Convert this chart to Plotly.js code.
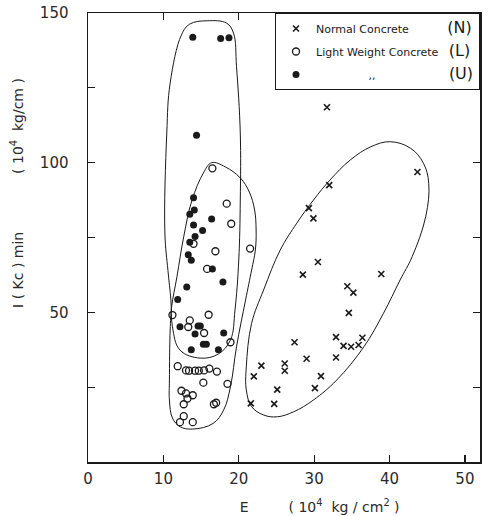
<!DOCTYPE html>
<html>
<head>
<meta charset="utf-8">
<script src="https://cdn.plot.ly/plotly-3.0.1.min.js"></script>
<style>html,body{margin:0;padding:0;background:#fff;}#chart{width:497px;height:516px;}</style>
</head>
<body>
<div id="chart"></div>
<script>
// Normal Concrete (N): E (10^4 kg/cm2), I(Kc)min (10^4 kg/cm)
const nE = [31.7, 43.7, 32.0, 29.3, 29.9, 30.5, 28.5, 38.9, 34.4, 35.2, 34.6, 32.9, 36.4, 33.9, 34.9, 35.9, 27.4, 29.0, 32.9, 23.0, 26.1, 26.1, 22.0, 30.9, 25.1, 30.1, 21.6, 24.7];
const nI = [118.5, 96.9, 92.5, 84.8, 81.4, 66.8, 62.6, 62.8, 58.7, 56.6, 49.8, 41.7, 41.5, 38.8, 38.5, 39.1, 40.0, 34.5, 34.9, 32.2, 32.9, 30.5, 28.6, 28.7, 24.2, 24.7, 19.6, 19.4];

// Light Weight Concrete (L)
const lE = [16.5, 18.4, 19.0, 14.0, 16.9, 21.5, 15.8, 11.2, 13.5, 16.0, 13.3, 15.4, 18.9, 11.9, 13.0, 13.4, 14.2, 14.7, 15.4, 16.1, 17.1, 15.3, 18.5, 12.4, 13.0, 13.9, 13.2, 12.7, 16.7, 17.0, 12.7, 12.2, 13.9];
const lI = [98.1, 86.3, 79.6, 72.9, 70.4, 71.3, 64.5, 49.1, 47.3, 49.2, 45.1, 43.1, 40.0, 32.0, 30.6, 30.5, 30.5, 30.5, 30.6, 31.2, 30.2, 26.5, 26.1, 23.8, 22.9, 22.3, 21.2, 19.3, 19.3, 19.8, 15.3, 13.3, 13.3];

// (U) ,,
const uE = [13.9, 17.6, 18.7, 14.4, 14.0, 14.1, 13.5, 16.4, 14.0, 15.2, 14.2, 13.5, 13.3, 13.7, 16.5, 17.9, 13.1, 11.9, 12.2, 14.6, 14.9, 14.2, 18.0, 15.3, 15.7, 13.7, 17.3];
const uI = [141.9, 141.5, 141.7, 109.2, 88.3, 84.2, 82.8, 81.2, 79.2, 77.3, 75.3, 73.4, 69.2, 67.4, 64.5, 60.1, 58.5, 54.3, 45.2, 45.4, 45.4, 42.8, 43.1, 39.3, 39.3, 37.5, 37.5];

// Hand-drawn envelopes
const envUE = [10.2, 10.45, 10.9, 12.4, 13.5, 15.8, 18.4, 19.3, 19.7, 20.2, 20.2, 20.0, 19.5, 18.9, 17.3, 14.9, 12.2, 11.2, 11.0, 10.6, 10.2];
const envUI = [76.5, 109.9, 126.6, 142.7, 146.3, 147.4, 146.6, 143.3, 132.1, 109.9, 87.5, 67.5, 50.8, 40.8, 36.1, 34.7, 37.4, 45.2, 54.1, 64.1, 76.5];
const envLE = [16.4, 18.2, 20.2, 21.4, 22.1, 22.3, 22.2, 21.7, 20.9, 19.7, 18.9, 18.0, 16.6, 13.9, 12.2, 11.2, 10.8, 10.8, 10.9, 11.1, 11.8, 12.7, 13.8, 15.3, 16.4];
const envLI = [100.0, 98.6, 94.9, 90.2, 84.2, 77.5, 70.8, 64.1, 54.1, 38.5, 25.2, 17.4, 12.9, 11.0, 11.8, 14.7, 20.7, 27.4, 44.1, 51.9, 61.9, 75.3, 87.5, 96.5, 100.0];
const envNE = [40.1, 42.8, 44.5, 45.2, 44.8, 43.0, 41.4, 39.2, 36.6, 33.0, 29.9, 27.3, 25.1, 23.3, 21.7, 21.0, 21.0, 21.7, 23.3, 25.5, 27.7, 29.9, 32.1, 34.8, 37.5, 40.1];
const envNI = [107.0, 104.8, 99.8, 93.1, 82.0, 68.6, 60.8, 49.7, 38.5, 27.4, 20.7, 16.8, 15.1, 15.7, 18.5, 24.1, 31.8, 46.3, 57.5, 70.8, 79.8, 87.5, 94.2, 100.9, 105.3, 107.0];

// Axis ticks
const xTicks = [0, 10, 20, 30, 40, 50];
const xTickText = ['0', '10', '20', '30', '40', '50'];
const yTicks = [25, 50, 75, 100, 125, 150];
const yTickText = ['', '50', '', '100', '', '150'];

const nb = n => '\u00A0'.repeat(n);
const zw = '\u200B';
const ink = '#1a1a1a';
const big = s => '<span style="font-size:16px">' + s + '</span>';

const envLine = {color: ink, width: 1, shape: 'spline', smoothing: 1.1};
const traces = [
  {x: envUE, y: envUI, mode: 'lines', line: envLine, showlegend: false, hoverinfo: 'skip'},
  {x: envLE, y: envLI, mode: 'lines', line: envLine, showlegend: false, hoverinfo: 'skip'},
  {x: envNE, y: envNI, mode: 'lines', line: envLine, showlegend: false, hoverinfo: 'skip'},
  {x: nE, y: nI, mode: 'markers', name: 'Normal Concrete' + nb(11) + big('(N)'), legendgroup: 'n',
   marker: {symbol: 'x-thin-open', size: 6, color: ink, line: {color: ink, width: 1.6}}},
  {x: lE, y: lI, mode: 'markers', name: 'Light Weight Concrete' + nb(3) + big('(L)'), legendgroup: 'l',
   marker: {symbol: 'circle-open', size: 7, color: ink, line: {color: ink, width: 1.3}}},
  {x: uE, y: uI, mode: 'markers', name: zw + nb(15) + ',,' + nb(21) + big('(U)'), legendgroup: 'u',
   marker: {symbol: 'circle', size: 7, color: ink, line: {width: 0}}}
];

const tickFont = {family: 'DejaVu Sans', size: 15, color: '#2a2a2a'};
const titleFont = {family: 'DejaVu Sans', size: 14, color: '#2a2a2a'};
const layout = {
  width: 497, height: 516,
  margin: {l: 88, r: 17, t: 13, b: 54},
  paper_bgcolor: '#fff', plot_bgcolor: '#fff',
  font: {family: 'DejaVu Sans', color: ink},
  xaxis: {
    range: [0, 52], tickvals: xTicks, ticktext: xTickText,
    ticks: 'inside', ticklen: 7, tickwidth: 1.2, tickcolor: ink,
    showline: true, linecolor: ink, linewidth: 1.5, mirror: 'ticks',
    showgrid: false, zeroline: false, tickfont: tickFont, ticklabelstandoff: 2,
    title: {text: zw + nb(16) + 'E' + nb(9) + '( 10<sup>4</sup>  kg / cm<sup>2</sup> )', font: titleFont, standoff: 15}
  },
  yaxis: {
    range: [0, 150], tickvals: yTicks, ticktext: yTickText,
    ticks: 'inside', ticklen: 7, tickwidth: 1.2, tickcolor: ink,
    showline: true, linecolor: ink, linewidth: 1.5, mirror: 'ticks',
    showgrid: false, zeroline: false, tickfont: tickFont, ticklabelstandoff: 15,
    title: {text: zw + nb(20) + 'I ( Kc ) min' + nb(13) + '( 10<sup>4</sup>  kg/cm )', font: titleFont, standoff: 13}
  },
  legend: {
    x: 1, xanchor: 'right', y: 1, yanchor: 'top',
    bgcolor: '#fff', bordercolor: ink, borderwidth: 1,
    font: {family: 'DejaVu Sans', size: 11, color: ink},
    tracegroupgap: 4, itemwidth: 30
  }
};

Plotly.newPlot('chart', traces, layout, {displayModeBar: false, staticPlot: true});
</script>
</body>
</html>
